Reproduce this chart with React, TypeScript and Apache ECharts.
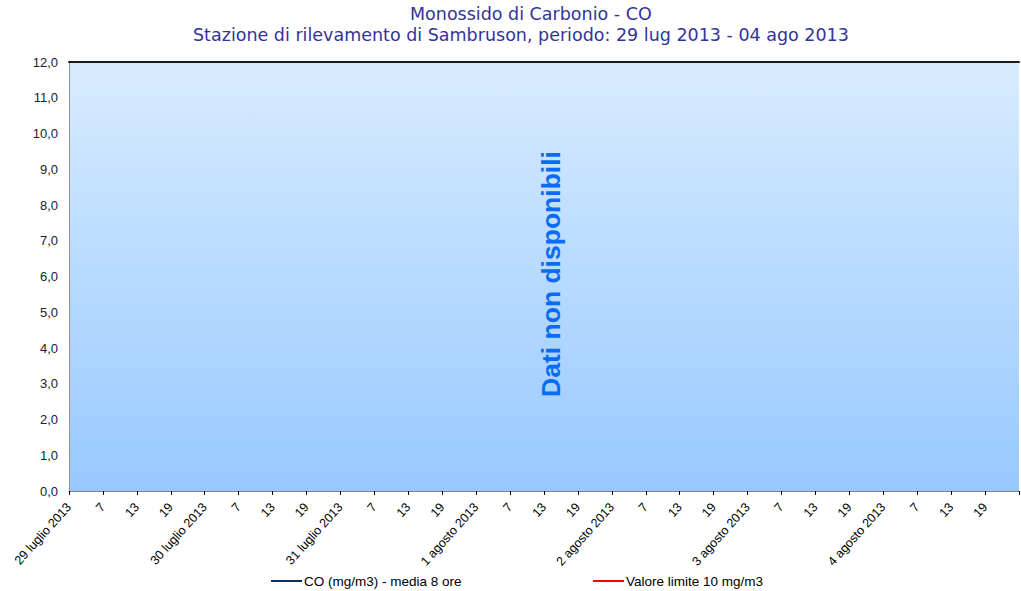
import React, { useEffect, useRef } from "react";
import * as echarts from "echarts";

const titleText = "Monossido di Carbonio - CO";
const subtitleText = "Stazione di rilevamento di Sambruson, periodo: 29 lug 2013 - 04 ago 2013";
const days = ["29 luglio 2013", "30 luglio 2013", "31 luglio 2013", "1 agosto 2013", "2 agosto 2013", "3 agosto 2013", "4 agosto 2013"];
const hourLabels = ["7", "13", "19"];
const xCategories: string[] = [];
days.forEach((d) => {
  xCategories.push(d);
  hourLabels.forEach((h) => xCategories.push(h));
});
xCategories.push("");
const coValues: (number | null)[] = [];
const limitValues: (number | null)[] = [];
const seriesCO = "CO (mg/m3) - media 8 ore";
const seriesLimit = "Valore limite 10 mg/m3";
const noDataText = "Dati non disponibili";

const titleFont = "'DejaVu Sans', Verdana, sans-serif";
const arial = "'Liberation Sans', Arial, sans-serif";

export default function App() {
  const ref = useRef<HTMLDivElement>(null);
  useEffect(() => {
    document.body.style.margin = "0";
    const chart = echarts.init(ref.current!, null, { renderer: "svg" });
    chart.setOption({
      animation: false,
      backgroundColor: "#ffffff",
      title: [
        {
          text: titleText,
          left: 410,
          top: 4,
          padding: 0,
          textStyle: { fontFamily: titleFont, fontSize: 17.5, lineHeight: 19, fontWeight: "normal", color: "#333399" },
        },
        {
          text: subtitleText,
          left: 193,
          top: 25,
          padding: 0,
          textStyle: { fontFamily: titleFont, fontSize: 17.5, lineHeight: 19, fontWeight: "normal", color: "#333399" },
        },
      ],
      legend: [
        {
          data: [seriesCO],
          left: 266,
          top: 569,
          icon: "rect",
          itemWidth: 31,
          itemHeight: 2,
          itemGap: 0,
          textStyle: { fontFamily: arial, fontSize: 13.5, color: "#000", padding: [0, 0, 0, -3] },
        },
        {
          data: [seriesLimit],
          left: 588,
          top: 569,
          icon: "rect",
          itemWidth: 31,
          itemHeight: 2,
          itemGap: 0,
          textStyle: { fontFamily: arial, fontSize: 13.5, color: "#000", padding: [0, 0, 0, -3] },
        },
      ],
      grid: {
        left: 69,
        right: 1,
        top: 62,
        bottom: 100,
        show: true,
        borderWidth: 0,
        backgroundColor: new echarts.graphic.LinearGradient(0, 0, 0, 1, [
          { offset: 0, color: "#D8EBFF" },
          { offset: 1, color: "#97C9FF" },
        ]),
      },
      xAxis: [
        {
          type: "category",
          data: xCategories,
          boundaryGap: false,
          axisLine: { lineStyle: { color: "#808080", width: 1 } },
          axisTick: { show: true, interval: 0, length: 4, lineStyle: { color: "#000" } },
          axisLabel: {
            interval: 0,
            rotate: 48,
            fontFamily: arial,
            fontSize: 12.5,
            color: "#000",
            margin: 14,
          },
          splitLine: { show: false },
        },
        {
          type: "category",
          data: xCategories,
          boundaryGap: false,
          position: "top",
          axisLine: { lineStyle: { color: "#1a1a1a", width: 2 } },
          axisTick: { show: false },
          axisLabel: { show: false },
          splitLine: { show: false },
        },
      ],
      yAxis: {
        type: "value",
        min: 0,
        max: 12,
        interval: 1,
        axisLine: { show: true, lineStyle: { color: "#909090" } },
        axisTick: { show: false },
        splitLine: { show: false },
        axisLabel: {
          formatter: (v: number) => v.toFixed(1).replace(".", ","),
          fontFamily: arial,
          fontSize: 13,
          color: "#222",
          margin: 11,
        },
      },
      series: [
        { name: seriesCO, type: "line", data: coValues, color: "#003366", showSymbol: false },
        { name: seriesLimit, type: "line", data: limitValues, color: "#FF0000", showSymbol: false },
      ],
      graphic: [
        {
          type: "text",
          x: 551,
          y: 274,
          rotation: Math.PI / 2,
          style: {
            text: noDataText,
            fill: "#0A6CF5",
            font: "bold 26.5px 'Liberation Sans', Arial, sans-serif",
            textAlign: "center",
            textVerticalAlign: "middle",
          },
        },
      ],
    });
    return () => chart.dispose();
  }, []);
  return <div ref={ref} style={{ width: 1021, height: 591 }} />;
}
